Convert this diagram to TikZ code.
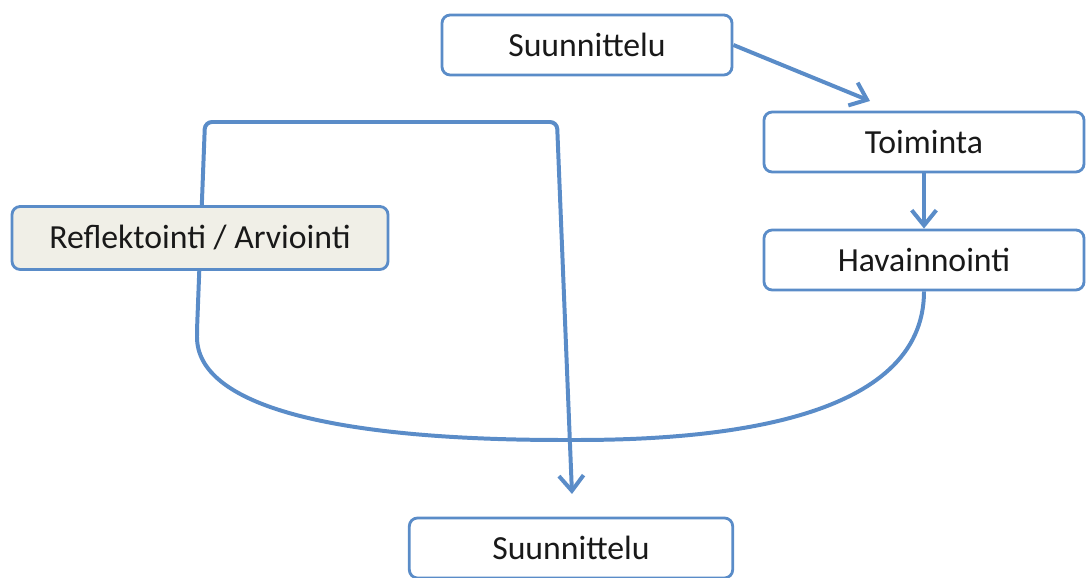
\documentclass[tikz,border=0pt]{standalone}
\usepackage{fontspec}
\setmainfont{Carlito}
\usetikzlibrary{arrows.meta}
\definecolor{linkblue}{HTML}{5A8CC8}
\definecolor{boxfill}{HTML}{F0EFE7}
\tikzset{
  stage/.style={draw=linkblue, line width=1.2pt, rounded corners=3.5pt, fill=white,
    text=black!90, font=\fontsize{14.4}{16}\selectfont, minimum height=0.9cm, inner sep=0pt},
  link/.style={draw=linkblue, line width=1.7pt, -{Straight Barb[length=6.5pt,width=10.5pt,line width=1.7pt]}}
}
\begin{document}
\begin{tikzpicture}[x=0.015cm, y=-0.015cm]
  \useasboundingbox (0,0) rectangle (1087,578);

  % Stages of the cycle
  \node[stage, minimum width=4.35cm] (sunTop) at (587,45) {Suunnittelu};
  \node[stage, minimum width=4.8cm] (toim) at (924,142) {Toiminta};
  \node[stage, minimum width=4.8cm] (hav) at (924,260) {Havainnointi};
  \node[stage, minimum width=4.85cm] (sunBot) at (571,548) {Suunnittelu};

  % Arrow ends that stop short of a box
  \coordinate (toimIn) at (870,101);
  \coordinate (sunIn) at (572,494);
  \coordinate (turnA) at (197,330);
  \coordinate (turnB) at (205,122);
  \coordinate (turnC) at (557,122);

  \draw[link] (sunTop.east) -- (toimIn);
  \draw[link] (toim.south) -- (hav.north);

  % Loop back through reflection
  \draw[link, rounded corners=3pt] (hav.south) .. controls (924,420) and (720,440) .. (570,440)
    .. controls (330,440) and (197,405) .. (turnA) -- (turnB) -- (turnC) -- (sunIn);

  \node[stage, fill=boxfill, minimum width=5.64cm, minimum height=0.945cm] (refl) at (200,238) {Reflektointi / Arviointi};
\end{tikzpicture}
\end{document}
